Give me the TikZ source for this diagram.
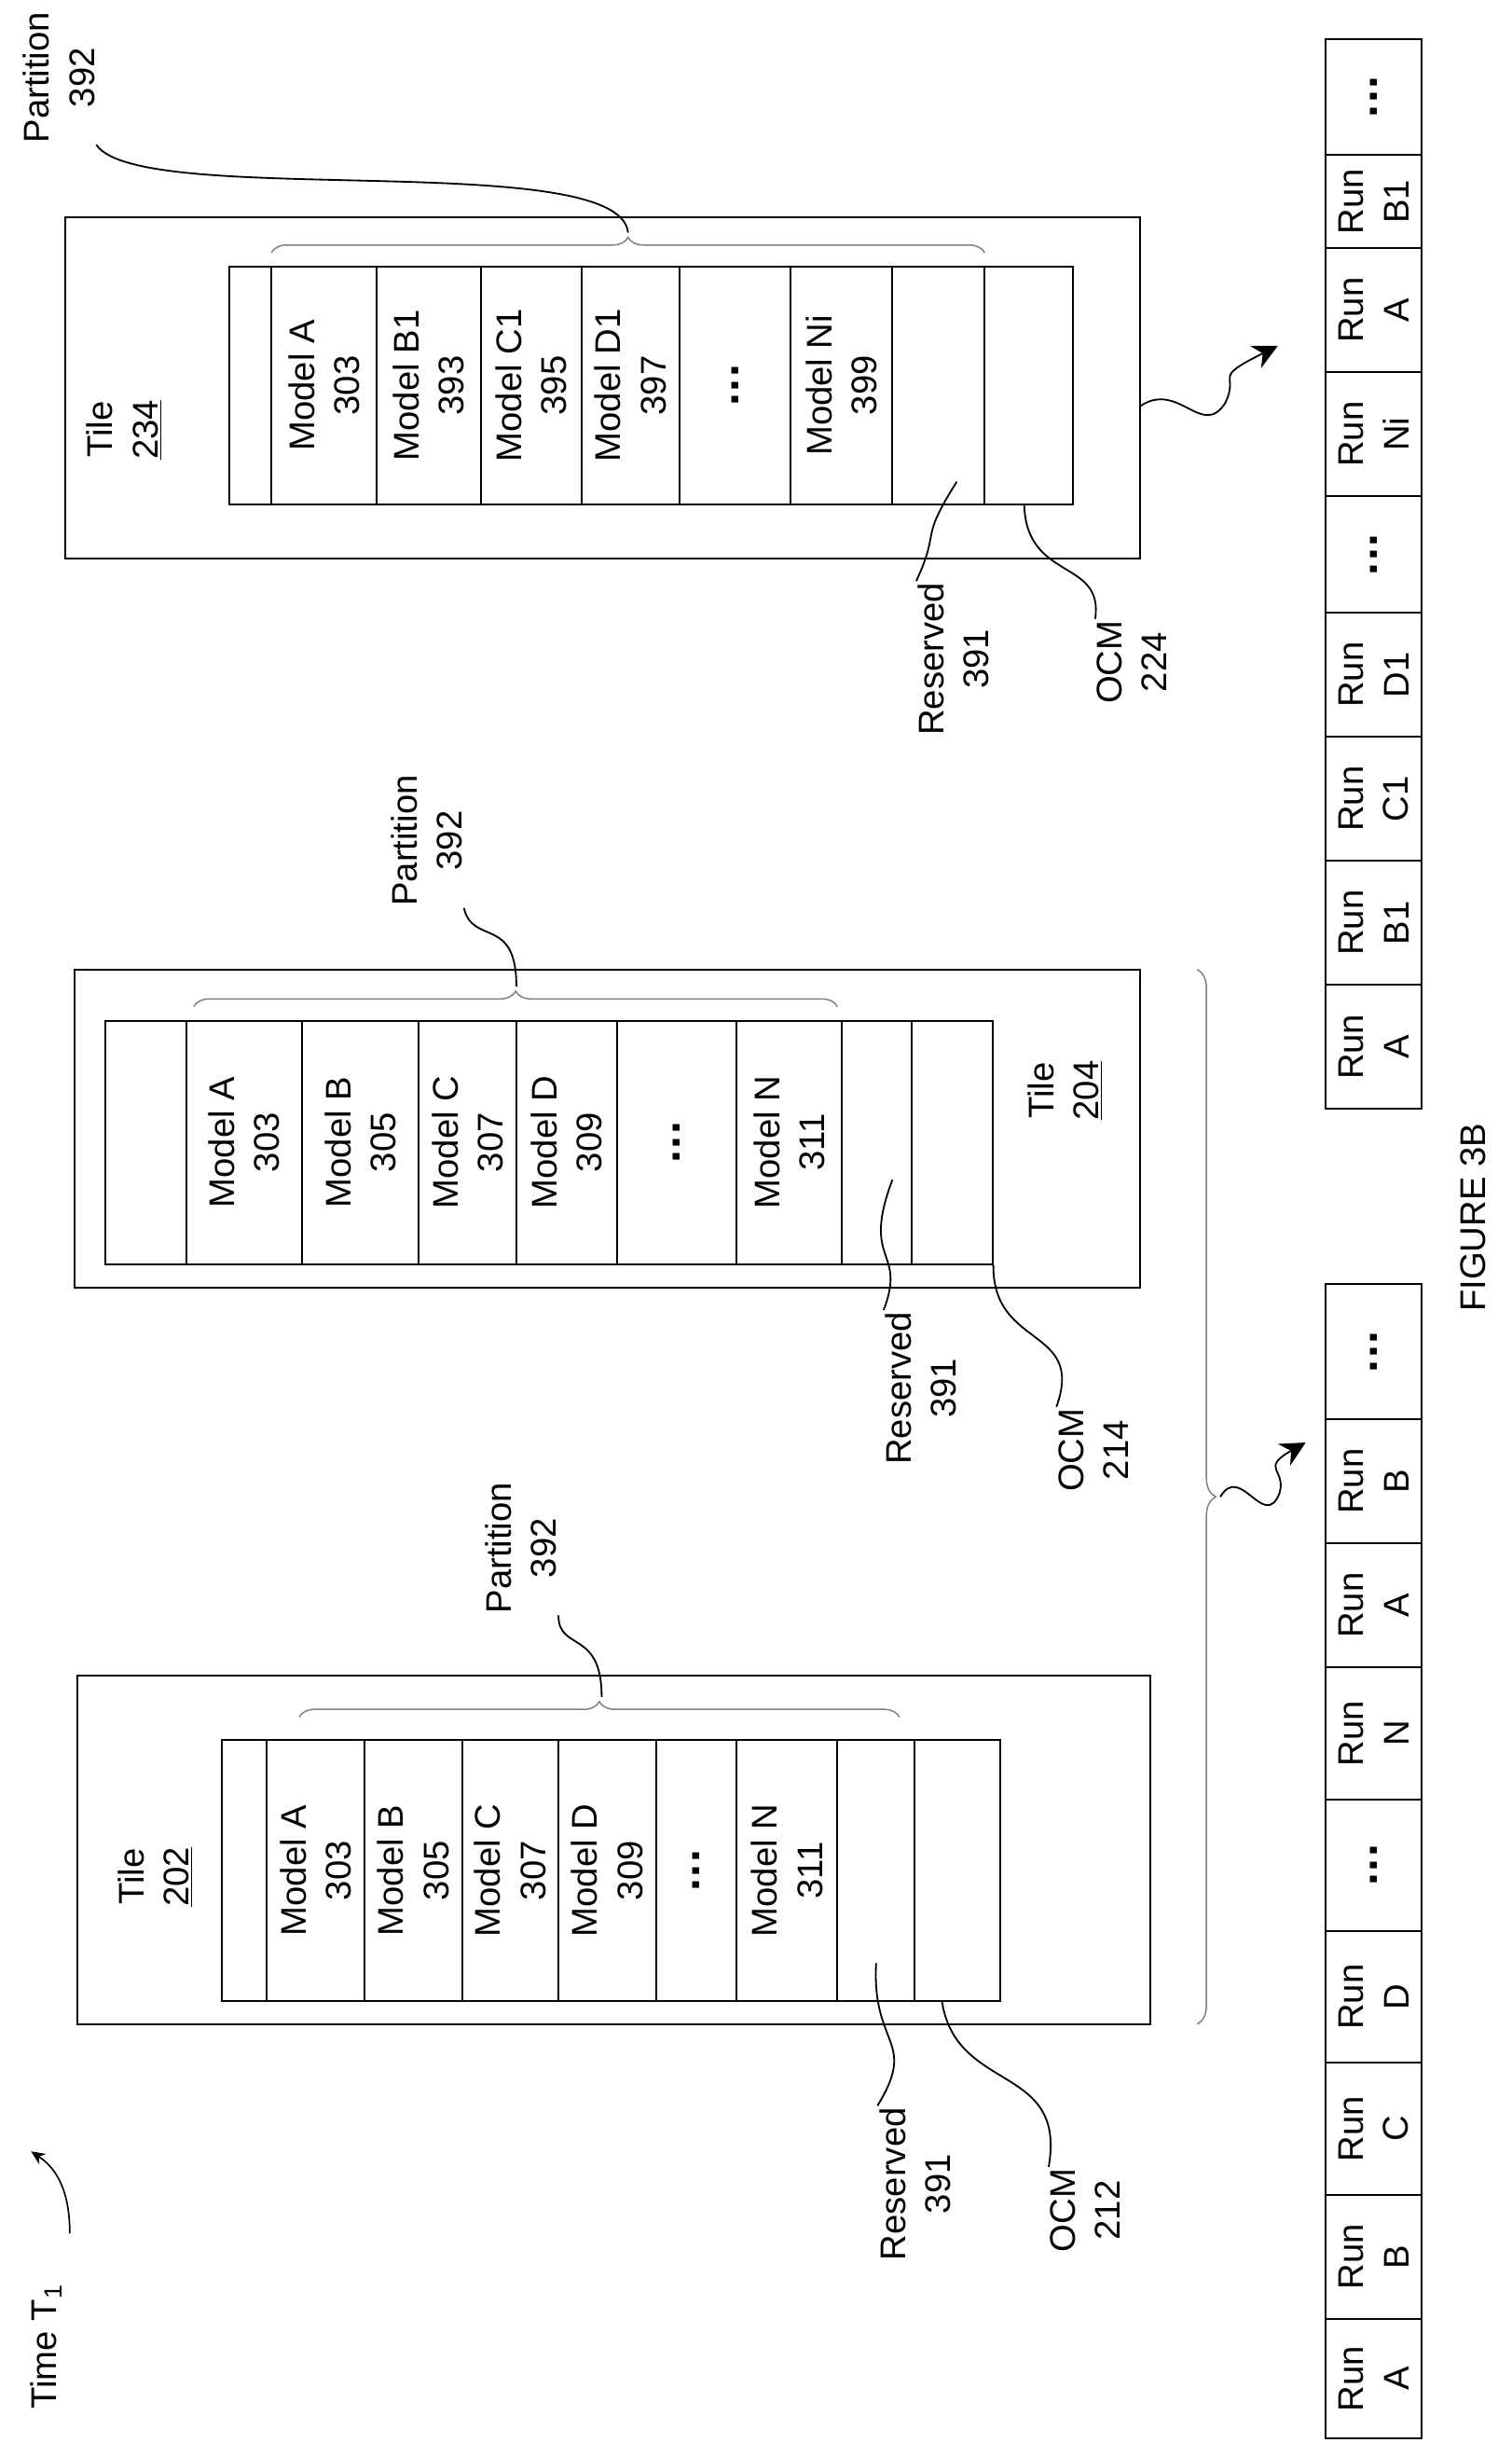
\documentclass[tikz,border=0pt]{standalone}
\usepackage{fontspec}
\setmainfont{Liberation Sans}
\usetikzlibrary{decorations.pathreplacing,arrows.meta,calc}
\newcommand\cellnode[6]{\node[cell,minimum width={(#3-#2)*1pt},minimum height={(#5-#4)*1pt}] (#1) at ({(#2+#3)/2},{-(#4+#5)/2}) {#6};}
\newcommand\dts{{\fontsize{30}{30}\selectfont\textbf{.\hspace{1pt}.\hspace{1pt}.}}}
\begin{document}
\begin{tikzpicture}[x=1pt,y=1pt,rotate=90,transform shape,
  every node/.style={font=\fontsize{23}{29}\selectfont},
  cell/.style={draw,line width=1.2pt,inner sep=0pt,align=center},
  box/.style={draw,line width=1.2pt},
  lbl/.style={align=center,inner sep=1pt},
  lead/.style={line width=1.1pt},
  br/.style={draw=gray,line width=0.9pt,decorate,decoration={brace,amplitude=10pt}},
  sq/.style={line width=1.1pt,-{Stealth[length=16pt,width=16pt]}}]
\useasboundingbox (0,0) rectangle (1575,-975);
% Time
\node[lbl] (time) at (62,-30) {Time T\textsubscript{1}};
\coordinate (ta) at (135,-45); \coordinate (tb) at (188,-20);
\draw[line width=1pt,-{Stealth[length=9pt,width=8pt]}] (ta) .. controls (165,-45) and (178,-35) .. (tb);
% ===== Tile 202
\node[box,minimum width=225pt,minimum height=692pt,inner sep=0] (tile202) at (382.5,-396) {};
\node[lbl] (t202) at (365,-100) {Tile\\\underline{202}};
\cellnode{a0}{285}{453}{143}{172}{}
\cellnode{a1}{285}{453}{172}{235}{Model A\\303}
\cellnode{a2}{285}{453}{235}{298}{Model B\\305}
\cellnode{a3}{285}{453}{298}{360}{Model C\\307}
\cellnode{a4}{285}{453}{360}{423}{Model D\\309}
\cellnode{a5}{285}{453}{423}{475}{\dts}
\cellnode{a6}{285}{453}{475}{540}{Model N\\311}
\cellnode{a7}{285}{453}{540}{590}{}
\cellnode{a8}{285}{453}{590}{645}{}
\draw[br] (468,-193) -- (468,-580);
\node[lbl] (pa) at (577,-336) {Partition\\392};
\draw[lead] (481,-388) .. controls (525,-388) and (510,-360) .. (pa.south west);
\node[lbl] (ra) at (167,-590) {Reserved\\391};
\draw[lead] ($(a7.west)+(25,0)$) .. controls (255,-562) and (260,-592) .. (ra.north east);
\node[lbl] (oa) at (150,-700) {OCM\\212};
\draw[lead] ($(a8.west)+(0,10)$) .. controls (225,-617) and (245,-688) .. (oa.north east);
% ===== Tile 204
\node[box,minimum width=205pt,minimum height=687pt,inner sep=0] (tile204) at (847.5,-391.5) {};
\node[lbl] (t204) at (872,-687) {Tile\\\underline{204}};
\cellnode{b0}{760}{917}{68}{120}{}
\cellnode{b1}{760}{917}{120}{195}{Model A\\303}
\cellnode{b2}{760}{917}{195}{270}{Model B\\305}
\cellnode{b3}{760}{917}{270}{333}{Model C\\307}
\cellnode{b4}{760}{917}{333}{398}{Model D\\309}
\cellnode{b5}{760}{917}{398}{475}{\dts}
\cellnode{b6}{760}{917}{475}{543}{Model N\\311}
\cellnode{b7}{760}{917}{543}{588}{}
\cellnode{b8}{760}{917}{588}{640}{}
\draw[br] (926,-125) -- (926,-540);
\node[lbl] (pb) at (1033,-275) {Partition\\392};
\draw[lead] (939,-333) .. controls (985,-333) and (965,-305) .. (pb.south west);
\node[lbl] (rb) at (680,-594) {Reserved\\391};
\draw[lead] ($(b7.west)+(55,-10)$) .. controls (760,-555) and (770,-585) .. (rb.north east);
\node[lbl] (ob) at (640,-705) {OCM\\214};
\draw[lead] (b8.south west) .. controls (705,-640) and (720,-700) .. (ob.north east);
% big brace and squiggle
\draw[br,decoration={amplitude=12pt}] (950,-772) -- (270,-772);
\coordinate (s1) at (610,-787); \coordinate (s1e) at (645,-842);
\draw[sq] (s1) .. controls (632,-800) and (588,-815) .. (612,-825) .. controls (628,-830) and (628,-812) .. (s1e);
% Table 1
\cellnode{c1}{3}{80}{855}{917}{Run\\A}
\cellnode{c2}{80}{160}{855}{917}{Run\\B}
\cellnode{c3}{160}{245}{855}{917}{Run\\C}
\cellnode{c4}{245}{330}{855}{917}{Run\\D}
\cellnode{c5}{330}{415}{855}{917}{\dts}
\cellnode{c6}{415}{500}{855}{917}{Run\\N}
\cellnode{c7}{500}{580}{855}{917}{Run\\A}
\cellnode{c8}{580}{660}{855}{917}{Run\\B}
\cellnode{c9}{660}{747}{855}{917}{\dts}
\node[lbl] (fig) at (790,-950) {FIGURE 3B};
% ===== Tile 234
\node[box,minimum width=220pt,minimum height=693pt,inner sep=0] (tile234) at (1325,-388.5) {};
\node[lbl] (t234) at (1298,-80) {Tile\\\underline{234}};
\cellnode{d0}{1250}{1403}{148}{175}{}
\cellnode{d1}{1250}{1403}{175}{243}{Model A\\303}
\cellnode{d2}{1250}{1403}{243}{310}{Model B1\\393}
\cellnode{d3}{1250}{1403}{310}{375}{Model C1\\395}
\cellnode{d4}{1250}{1403}{375}{438}{Model D1\\397}
\cellnode{d5}{1250}{1403}{438}{510}{\dts}
\cellnode{d6}{1250}{1403}{510}{575}{Model Ni\\399}
\cellnode{d7}{1250}{1403}{575}{635}{}
\cellnode{d8}{1250}{1403}{635}{692}{}
\draw[br] (1412,-175) -- (1412,-635);
\node[lbl] (pd) at (1525,-38) {Partition\\392};
\draw[lead] (1425,-405) .. controls (1480,-400) and (1440,-90) .. (pd.south west);
\node[lbl] (rd) at (1150,-615) {Reserved\\391};
\draw[lead] ($(d7.west)+(15,-12)$) .. controls (1225,-592) and (1235,-607) .. (rd.north east);
\node[lbl] (od) at (1148,-730) {OCM\\224};
\draw[lead] ($(d8.west)+(0,3)$) .. controls (1200,-662) and (1215,-712) .. (od.north east);
\coordinate (s2) at (1313,-735); \coordinate (s2e) at (1352,-824);
\draw[sq] (s2) .. controls (1330,-760) and (1292,-775) .. (1315,-790) .. controls (1335,-800) and (1330,-780) .. (s2e);
% Table 2
\cellnode{e1}{860}{940}{855}{917}{Run\\A}
\cellnode{e2}{940}{1020}{855}{917}{Run\\B1}
\cellnode{e3}{1020}{1100}{855}{917}{Run\\C1}
\cellnode{e4}{1100}{1180}{855}{917}{Run\\D1}
\cellnode{e5}{1180}{1255}{855}{917}{\dts}
\cellnode{e6}{1255}{1335}{855}{917}{Run\\Ni}
\cellnode{e7}{1335}{1415}{855}{917}{Run\\A}
\cellnode{e8}{1415}{1475}{855}{917}{Run\\B1}
\cellnode{e9}{1475}{1550}{855}{917}{\dts}
\end{tikzpicture}
\end{document}
